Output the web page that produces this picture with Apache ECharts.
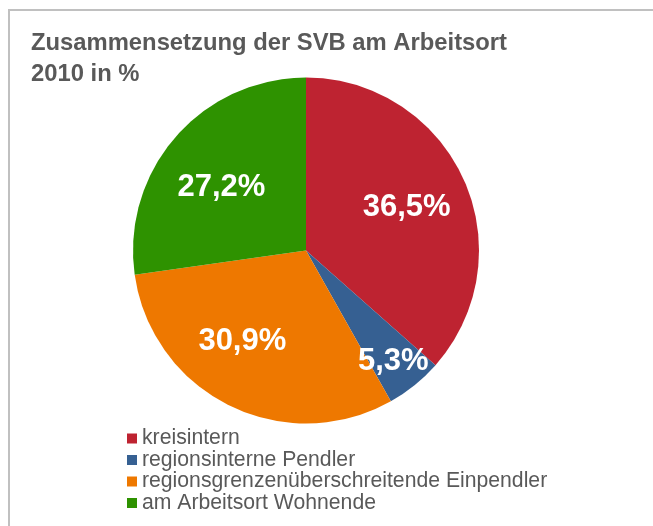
<!DOCTYPE html>
<html>
<head>
<meta charset="utf-8">
<script src="https://cdn.jsdelivr.net/npm/echarts@6/dist/echarts.min.js"></script>
<style>
  html, body { margin: 0; padding: 0; background: #ffffff; }
  #chart { width: 653px; height: 526px; }
</style>
</head>
<body>
<div id="chart"></div>
<script>
// Zusammensetzung der SVB am Arbeitsort 2010, Anteile in %
const categories = [
  'kreisintern',
  'regionsinterne Pendler',
  'regionsgrenzenüberschreitende Einpendler',
  'am Arbeitsort Wohnende'
];
const shares = [36.5, 5.3, 30.9, 27.2];
const sliceColors = ['#BE2331', '#366092', '#EE7800', '#2E9200'];
// label nudges (px) away from the default mid-radius spot
const labelOffsets = [[19, -6], [31, 41], [-24, 11], [-17, -4]];

const fontFamily = "'Liberation Sans', Arial, sans-serif";
const chart = echarts.init(document.getElementById('chart'), null, { renderer: 'canvas' });

const pieData = categories.map((name, i) => ({
  name: name,
  value: shares[i],
  itemStyle: { color: sliceColors[i] },
  label: { offset: labelOffsets[i] }
}));

chart.setOption({
  animation: false,
  backgroundColor: '#ffffff',
  title: {
    text: 'Zusammensetzung der SVB am Arbeitsort\n2010 in %',
    left: 31,
    top: 28,
    padding: 0,
    textStyle: {
      fontFamily: fontFamily,
      fontSize: 23.8,
      fontWeight: 'bold',
      color: '#595959',
      lineHeight: 31
    }
  },
  legend: {
    orient: 'vertical',
    left: 127,
    top: 428,
    padding: 0,
    itemWidth: 10,
    itemHeight: 10,
    itemGap: 0.5,
    icon: 'rect',
    selectedMode: false,
    textStyle: {
      fontFamily: fontFamily,
      fontSize: 21.2,
      lineHeight: 21,
      color: '#595959'
    },
    data: categories
  },
  graphic: [{
    type: 'rect',
    silent: true,
    shape: { x: 9, y: 10, width: 700, height: 600 },
    style: { fill: 'none', stroke: '#C0C0C0', lineWidth: 2 }
  }],
  series: [{
    type: 'pie',
    center: [306, 250.5],
    radius: [0, 173],
    startAngle: 90,
    clockwise: true,
    avoidLabelOverlap: false,
    emphasis: { disabled: true },
    itemStyle: { borderWidth: 0 },
    label: {
      show: true,
      position: 'inside',
      formatter: p => p.value.toFixed(1).replace('.', ',') + '%',
      fontFamily: fontFamily,
      fontSize: 31,
      fontWeight: 'bold',
      color: '#ffffff'
    },
    labelLine: { show: false },
    data: pieData
  }]
});
</script>
</body>
</html>
